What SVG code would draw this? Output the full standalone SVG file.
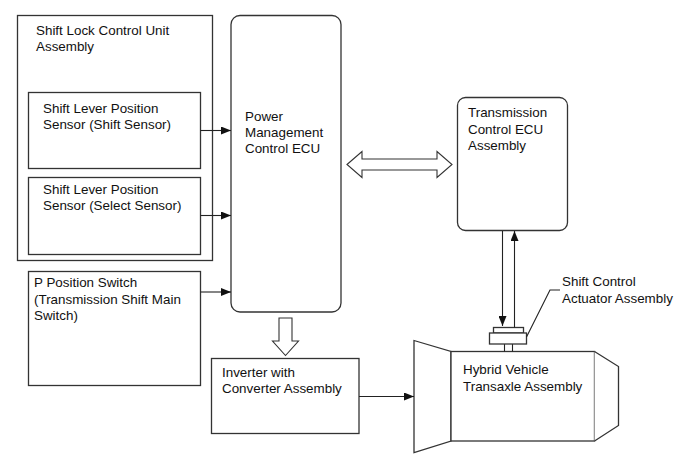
<svg xmlns="http://www.w3.org/2000/svg" width="689" height="464" viewBox="0 0 689 464">
<defs>
<style>
.box{fill:#fff;stroke:#333;stroke-width:1.3}
.ln{fill:none;stroke:#222;stroke-width:1.1}
.hol{fill:#fff;stroke:#333;stroke-width:1.1;stroke-linejoin:miter}
text{font-family:"Liberation Sans",Arial,sans-serif;font-size:13.4px;fill:#111}
</style>
<marker id="ah" viewBox="0 0 10 8" refX="10" refY="4" markerWidth="10" markerHeight="8" markerUnits="userSpaceOnUse" orient="auto">
<path d="M0,0 L10,4 L0,8 Z" fill="#111"/>
</marker>
</defs>
<rect width="689" height="464" fill="#fff"/>
<g id="shift-lock-unit">
<rect class="box" x="17.5" y="15.5" width="195" height="245"/>
<text x="36" y="35">Shift Lock Control Unit</text>
<text x="36" y="51">Assembly</text>
</g>
<g id="shift-sensor">
<rect class="box" x="28.5" y="92.5" width="172" height="76"/>
<text x="43" y="113">Shift Lever Position</text>
<text x="43" y="129">Sensor (Shift Sensor)</text>
</g>
<g id="select-sensor">
<rect class="box" x="28.5" y="177.5" width="172" height="77"/>
<text x="43" y="194">Shift Lever Position</text>
<text x="43" y="210">Sensor (Select Sensor)</text>
</g>
<g id="p-switch">
<rect class="box" x="28.5" y="271.5" width="172" height="114"/>
<text x="34" y="287">P Position Switch</text>
<text x="34" y="304">(Transmission Shift Main</text>
<text x="34" y="320">Switch)</text>
</g>
<g id="pm-ecu">
<rect class="box" x="231" y="15.5" width="110" height="296.5" rx="9"/>
<text x="245" y="121">Power</text>
<text x="245" y="137">Management</text>
<text x="245" y="153">Control ECU</text>
</g>
<g id="tcu">
<rect class="box" x="457.5" y="97.5" width="110" height="133" rx="8"/>
<text x="468" y="117">Transmission</text>
<text x="468" y="134">Control ECU</text>
<text x="468" y="150">Assembly</text>
</g>
<g id="inverter">
<rect class="box" x="211.5" y="358.5" width="147.5" height="75"/>
<text x="222" y="377">Inverter with</text>
<text x="222" y="393">Converter Assembly</text>
</g>
<g id="transaxle">
<path class="box" d="M414,340.5 L451,351.5 L451,441 L414,452.5 Z"/>
<rect class="box" x="451" y="351.5" width="143.5" height="89.5"/>
<path class="box" d="M594.5,351.5 L618.5,366.5 L618.5,425.5 L594.5,441"/>
<text x="463" y="374">Hybrid Vehicle</text>
<text x="463" y="391">Transaxle Assembly</text>
</g>
<g id="actuator">
<line class="ln" x1="504.5" y1="344" x2="504.5" y2="351.5"/>
<line class="ln" x1="512.5" y1="344" x2="512.5" y2="351.5"/>
<rect class="box" x="493.5" y="327.5" width="30" height="5.5"/>
<rect class="box" x="489.5" y="333" width="37" height="11"/>
<polyline class="ln" points="526.5,337 550,290 560,290"/>
<text x="562" y="286">Shift Control</text>
<text x="562" y="303">Actuator Assembly</text>
</g>
<g id="connectors">
<line class="ln" x1="200.5" y1="130.5" x2="231" y2="130.5" marker-end="url(#ah)"/>
<line class="ln" x1="200.5" y1="215.5" x2="231" y2="215.5" marker-end="url(#ah)"/>
<line class="ln" x1="200.5" y1="292" x2="231" y2="292" marker-end="url(#ah)"/>
<line class="ln" x1="359" y1="396.5" x2="414" y2="396.5" marker-end="url(#ah)"/>
<line class="ln" x1="502.5" y1="231" x2="502.5" y2="326" marker-end="url(#ah)"/>
<line class="ln" x1="514.5" y1="327.5" x2="514.5" y2="231" marker-end="url(#ah)"/>
<path class="hol" d="M347,164.5 L362,151.5 L362,159 L437,159 L437,151.5 L452,164.5 L437,177.5 L437,170 L362,170 L362,177.5 Z"/>
<path class="hol" d="M279,318 L292,318 L292,341 L298.5,341 L285.5,355.5 L272.5,341 L279,341 Z"/>
</g>
</svg>
